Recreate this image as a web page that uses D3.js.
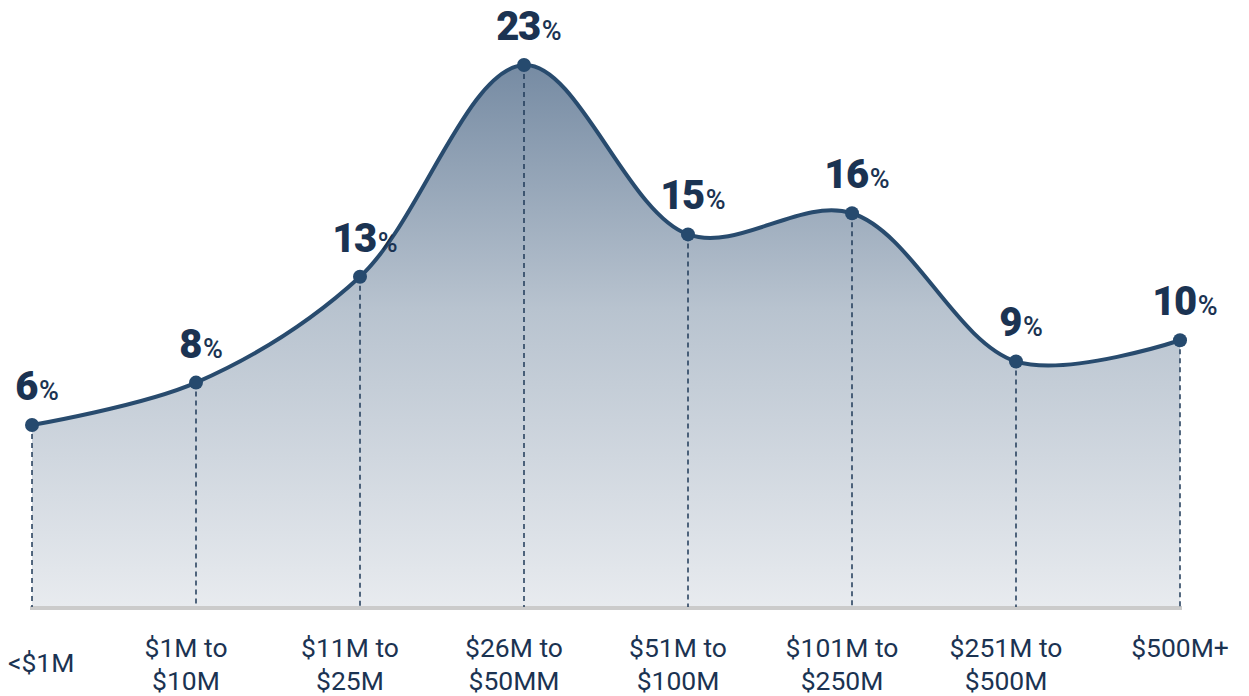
<!DOCTYPE html>
<html>
<head>
<meta charset="utf-8">
<script src="https://cdn.jsdelivr.net/npm/d3@7"></script>
<style>
  html, body { margin: 0; padding: 0; background: #ffffff; }
  svg { display: block; }
</style>
</head>
<body>
<svg id="chart" width="1249" height="696"></svg>
<script>
// Revenue bands and share of respondents in each band
const categories = [
  ["<$1M"],
  ["$1M to", "$10M"],
  ["$11M to", "$25M"],
  ["$26M to", "$50MM"],
  ["$51M to", "$100M"],
  ["$101M to", "$250M"],
  ["$251M to", "$500M"],
  ["$500M+"]
];
const shares = [6, 8, 13, 23, 15, 16, 9, 10];
const valueSuffix = "%";

const W = 1249, H = 696;
const baseY = 607;
const svg = d3.select("#chart");

const x = d3.scalePoint()
  .domain(d3.range(categories.length))
  .range([32, 1180]);

const y = d3.scaleLinear()
  .domain([0, 23])
  .range([552, 65]);

const data = shares.map((v, i) => ({ i, v }));

// Area fill gradient
const defs = svg.append("defs");
const grad = defs.append("linearGradient")
  .attr("id", "areaFill")
  .attr("gradientUnits", "userSpaceOnUse")
  .attr("x1", 0).attr("x2", 0)
  .attr("y1", y(23)).attr("y2", baseY);
grad.append("stop").attr("offset", "0%").attr("stop-color", "#768ba3");
grad.append("stop").attr("offset", "45%").attr("stop-color", "#b8c3cf");
grad.append("stop").attr("offset", "100%").attr("stop-color", "#e8ebef");

const curve = d3.curveCatmullRom.alpha(0.5);

const area = d3.area()
  .x(d => x(d.i))
  .y0(baseY)
  .y1(d => y(d.v))
  .curve(curve);

const line = d3.line()
  .x(d => x(d.i))
  .y(d => y(d.v))
  .curve(curve);

svg.append("path")
  .datum(data)
  .attr("d", area)
  .attr("fill", "url(#areaFill)");

// Baseline
svg.append("line")
  .attr("x1", x(0) - 2).attr("x2", x(categories.length - 1) + 2)
  .attr("y1", baseY + 1).attr("y2", baseY + 1)
  .attr("stroke", "#cbcbcb")
  .attr("stroke-width", 4);

// Dashed drop lines
svg.append("g")
  .selectAll("line")
  .data(data)
  .join("line")
  .attr("x1", d => x(d.i)).attr("x2", d => x(d.i))
  .attr("y1", d => y(d.v)).attr("y2", baseY)
  .attr("stroke", "#1f3a58")
  .attr("stroke-width", 1.5)
  .attr("stroke-dasharray", "5,4");

svg.append("path")
  .datum(data)
  .attr("d", line)
  .attr("fill", "none")
  .attr("stroke", "#284b6e")
  .attr("stroke-width", 4);

svg.append("g")
  .selectAll("circle")
  .data(data)
  .join("circle")
  .attr("cx", d => x(d.i))
  .attr("cy", d => y(d.v))
  .attr("r", 7)
  .attr("fill", "#264a6e");

// Value labels
const labels = svg.append("g")
  .selectAll("text")
  .data(data)
  .join("text")
  .attr("x", d => x(d.i) + 5)
  .attr("y", d => y(d.v) - 25)
  .attr("text-anchor", "middle")
  .attr("fill", "#1b3352")
  .style("font-family", "Roboto, 'Noto Sans', sans-serif");
labels.append("tspan")
  .text(d => d.v)
  .style("font-size", "40px")
  .style("font-weight", 900)
  .style("letter-spacing", "-1.5px");
labels.append("tspan")
  .text(valueSuffix)
  .attr("dx", 2)
  .style("font-size", "27px")
  .style("font-weight", 500);

// Category labels
const cat = svg.append("g")
  .selectAll("text")
  .data(categories)
  .join("text")
  .attr("text-anchor", "middle")
  .attr("fill", "#1b3352")
  .style("font-family", "Roboto, 'Noto Sans', sans-serif")
  .style("font-size", "26.5px");
cat.each(function (lines, i) {
  const t = d3.select(this);
  const isLast = i === categories.length - 1;
  const firstBase = (lines.length === 1 && !isLast) ? 672 : 657;
  const cx = x(i) - (lines.length > 1 ? 10 : 0);
  lines.forEach((s, k) => {
    t.append("tspan")
      .attr("x", cx)
      .attr("y", firstBase + k * 33)
      .text(s);
  });
  // keep labels inside the drawing area
  const bb = this.getBBox();
  let shift = 0;
  if (bb.x < 8) shift = 8 - bb.x;
  if (bb.x + bb.width > W - 10) shift = (W - 10) - (bb.x + bb.width);
  if (shift) t.selectAll("tspan").attr("x", cx + shift);
});
</script>
</body>
</html>
